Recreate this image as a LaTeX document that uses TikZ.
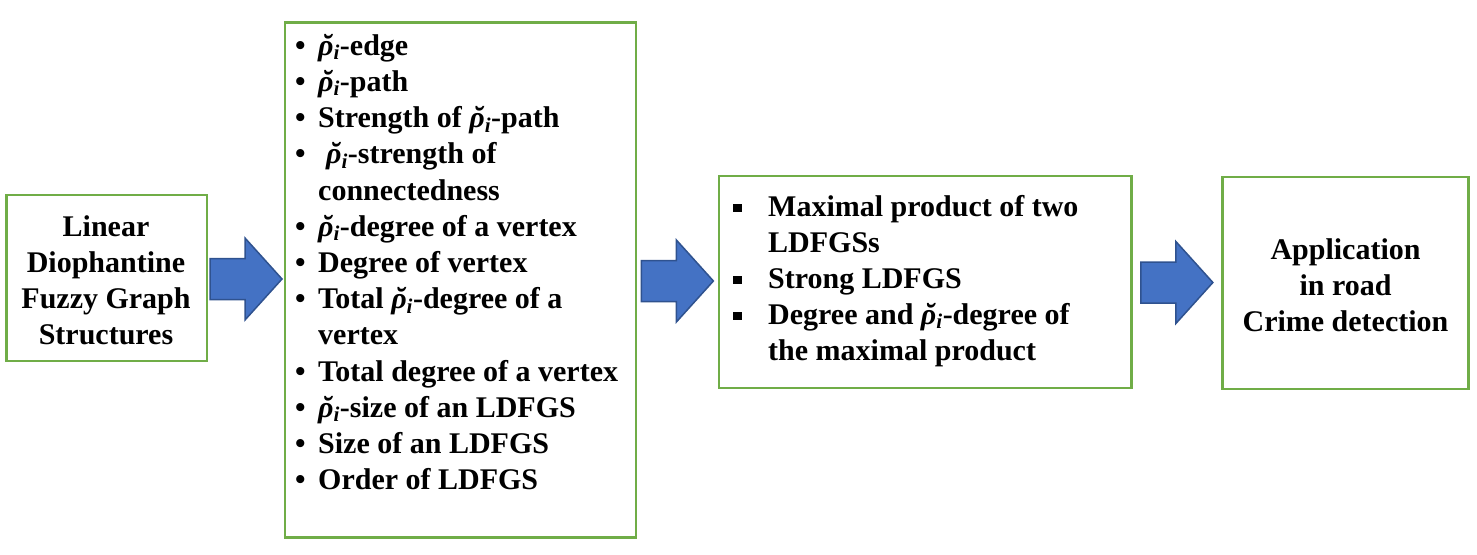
\documentclass[tikz,border=0pt]{standalone}
\usepackage{fix-cm}
\usepackage{amsmath}
\usepackage{fontspec}
\setmainfont{Liberation Serif}
\usetikzlibrary{calc}

\definecolor{boxgreen}{HTML}{70AD47}
\definecolor{arrowblue}{HTML}{4472C4}
\definecolor{arrowedge}{HTML}{2F528F}

\newcommand{\rh}{{\itshape\rlap{\hspace{3.5pt}˘}ρ}\ensuremath{{}_{\text{\bfseries\itshape i}}}}
\newcommand{\bl}{\makebox[23pt][l]{\textbullet}}
\newcommand{\nb}{\hspace*{23pt}}
\newcommand{\sq}{\makebox[35pt][l]{\rule[4pt]{8.5pt}{8.5pt}}}
\newcommand{\ns}{\hspace*{35pt}}

\tikzset{
  stage/.style={draw=boxgreen, line width=2.5pt, inner sep=0pt},
  stagetext/.style={inner sep=0pt, font={\fontsize{30}{36}\selectfont\bfseries}},
  fatarrow/.pic={
    \draw[fill=arrowblue, draw=arrowedge, line width=1.5pt, line join=miter]
      (-36,-20.5) -- (-1,-20.5) -- (-1,-41) -- (36,0) -- (-1,41) -- (-1,20.5) -- (-36,20.5) -- cycle;
  }
}

\begin{document}
\begin{tikzpicture}[x=1pt, y=-1pt]
  \useasboundingbox (0,0) rectangle (1477,554);

  % the four stages
  \node[stage, minimum width=200.5pt, minimum height=166pt] (lin) at (106.75,278) {};
  \node[stage, minimum width=351pt, minimum height=515pt] (defs) at (460.5,280) {};
  \node[stage, minimum width=412.5pt, minimum height=212pt] (prod) at (925,282) {};
  \node[stage, minimum width=246pt, minimum height=212pt] (app) at (1345.5,283) {};

  \node[stagetext, align=center] (lintext) at (106,280)
    {Linear\\Diophantine\\Fuzzy Graph\\Structures};

  \node[stagetext, align=left, anchor=north west,
        font={\fontsize{30}{36.2}\selectfont\bfseries}] (defstext) at (295,29.7)
    {\strut\bl\rh-edge\\
     \bl\rh-path\\
     \bl Strength of \rh-path\\
     \bl\hspace{8pt}\rh-strength of\\
     \nb connectedness\\
     \bl\rh-degree of a vertex\\
     \bl Degree of vertex\\
     \bl Total \rh-degree of a\\
     \nb vertex\\
     \bl Total degree of a vertex\\
     \bl\rh-size of an LDFGS\\
     \bl Size of an LDFGS\\
     \bl Order of LDFGS};

  \node[stagetext, align=left, anchor=north west] (prodtext) at (733,190.8)
    {\strut\sq Maximal product of two\\
     \ns LDFGSs\\
     \sq Strong LDFGS\\
     \sq Degree and \rh-degree of\\
     \ns the maximal product};

  \node[stagetext, align=center] (apptext) at (1345.5,285.5)
    {Application\\in road\\Crime detection};

  % block arrows between the stages
  \path (lin.east) -- (defs.west) coordinate[pos=.5] (m1);
  \path (defs.east) -- (prod.west) coordinate[pos=.5] (m2);
  \path (prod.east) -- (app.west) coordinate[pos=.5] (m3);
  \pic at (m1) {fatarrow};
  \pic at (m2) {fatarrow};
  \pic at (m3) {fatarrow};
\end{tikzpicture}
\end{document}
